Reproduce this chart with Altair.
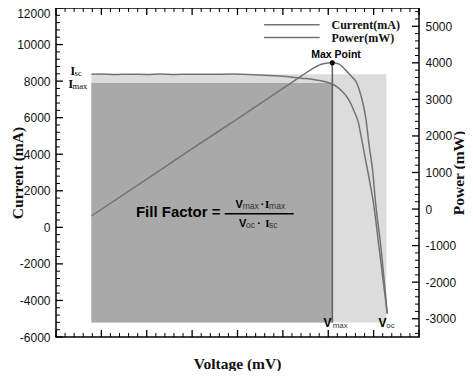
import altair as alt
import pandas as pd

# ---------------- data ----------------
v_cur = [-22, 0, 30, 60, 100, 130, 160, 200, 240, 290, 350, 400, 440, 470, 509, 529,
         544, 558, 566, 572, 583, 594, 599, 612, 630]
i_cur = [8370, 8385, 8360, 8380, 8365, 8385, 8365, 8380, 8370, 8385, 8330, 8260, 8160,
         8080, 7840, 7480, 7030, 6300, 5770, 5040, 3600, 2150, 1430, -1100, -4720]

v_pow = [-22, 100, 200, 300, 400, 442, 464, 485, 500, 509, 518, 525, 540, 551, 562, 572,
         583, 590, 598, 604, 616, 630]
p_pow = [-190, 820, 1650, 2470, 3300, 3650, 3830, 3960, 3995, 4000, 3990, 3960, 3780,
         3630, 3470, 3110, 2470, 1750, 1030, 210, -1050, -2860]

v_start, v_max, v_oc = -22, 509, 628
i_sc, i_max, i_floor = 8370, 7900, -5200
p_max = 4000

x_domain = [-100, 700]
cur_domain = [-6000, 12000]
pow_domain = [-3500, 5500]
x_major = list(range(-100, 701, 100))
x_minor = [v for v in range(-100, 701, 20) if v % 100]
cur_major = list(range(-6000, 12001, 2000))
cur_minor = [v for v in range(-6000, 12001, 400) if v % 2000]
pow_major = list(range(-3000, 5001, 1000))
pow_minor = [v for v in range(-3400, 5500, 200) if v % 1000]
legend_labels = ["Current(mA)", "Power(mW)"]
x_title = "Voltage (mV)"

# ---------------- layout ----------------
W, H = 363, 329
SANS = "Liberation Sans"
SERIF = "Liberation Serif"
CURVE = "#737373"

xs = alt.Scale(domain=x_domain, nice=False, zero=False)
ys_cur = alt.Scale(domain=cur_domain, nice=False, zero=False)
ys_pow = alt.Scale(domain=pow_domain, nice=False, zero=False)


def p_to_cur(p):
    span_c = cur_domain[1] - cur_domain[0]
    span_p = pow_domain[1] - pow_domain[0]
    return cur_domain[0] + (p - pow_domain[0]) * span_c / span_p


lab = dict(labelFont=SANS, labelFontSize=12, labelColor="#111", ticks=False, tickSize=0,
           domain=False, grid=False, labelExpr="'' + datum.value", labelOverlap=False,
           labelFlush=False, titleFont=SERIF, titleFontWeight="bold", titleFontSize=15.5,
           titleColor="#111")

x_axis = alt.Axis(values=x_major, labelPadding=3, title=None,
                  **{k: v for k, v in lab.items() if not k.startswith("title")})
left_axis = alt.Axis(orient="left", values=cur_major, labelPadding=6, title="Current (mA)",
                     titleAngle=270, titleX=-34, titleY=H / 2, titleBaseline="alphabetic",
                     labelBaseline={"condition": {"test": "datum.value == 12000", "value": "top"},
                                    "value": "middle"},
                     **lab)
right_axis = alt.Axis(orient="right", values=pow_major, labelPadding=6, title="Power (mW)",
                      titleAngle=270, titleX=44, titleY=H / 2, titleBaseline="alphabetic", **lab)

one = alt.Data(values=[{}])

layers = []

# filled areas
rect_df = pd.DataFrame({"v0": [v_start, v_start], "v1": [v_oc, v_max],
                        "i0": [i_floor, i_floor], "i1": [i_sc, i_max]})
layers.append(alt.Chart(rect_df.iloc[[0]]).mark_rect(color="#dcdcdc").encode(
    x=alt.X("v0:Q", scale=xs, axis=x_axis), x2="v1",
    y=alt.Y("i0:Q", scale=ys_cur, axis=left_axis), y2="i1"))
layers.append(alt.Chart(rect_df.iloc[[1]]).mark_rect(color="#a9a9a9").encode(
    x=alt.X("v0:Q", scale=xs, axis=None), x2="v1",
    y=alt.Y("i0:Q", scale=ys_cur, axis=None), y2="i1"))

# curves
cur_df = pd.DataFrame({"v": v_cur, "i": i_cur})
pow_df = pd.DataFrame({"v": v_pow, "p": p_pow})
layers.append(alt.Chart(cur_df).mark_line(color=CURVE, strokeWidth=1.5, interpolate="monotone").encode(
    x=alt.X("v:Q", scale=xs, axis=None), y=alt.Y("i:Q", scale=ys_cur, axis=None), order="v:Q"))
layers.append(alt.Chart(pow_df).mark_line(color=CURVE, strokeWidth=1.5, interpolate="monotone").encode(
    x=alt.X("v:Q", scale=xs, axis=None), y=alt.Y("p:Q", scale=ys_pow, axis=right_axis), order="v:Q"))

# Vmax vertical line and max point
vline_df = pd.DataFrame({"v": [v_max], "y0": [i_floor], "y1": [p_to_cur(p_max)]})
layers.append(alt.Chart(vline_df).mark_rule(color="#666666", strokeWidth=1.6).encode(
    x=alt.X("v:Q", scale=xs, axis=None), y=alt.Y("y0:Q", scale=ys_cur, axis=None), y2="y1"))
mp_df = pd.DataFrame({"v": [v_max], "p": [p_max]})
layers.append(alt.Chart(mp_df).mark_point(filled=True, color="black", size=26, opacity=1).encode(
    x=alt.X("v:Q", scale=xs, axis=None), y=alt.Y("p:Q", scale=ys_pow, axis=None)))


# inward tick marks
def xticks(vals, y0, y1, w):
    return alt.Chart(pd.DataFrame({"v": vals})).mark_rule(color="black", strokeWidth=w).encode(
        x=alt.X("v:Q", scale=xs, axis=None), y=alt.value(y0), y2=alt.value(y1))


def yticks(vals, scale, x0, x1, w):
    return alt.Chart(pd.DataFrame({"v": vals})).mark_rule(color="black", strokeWidth=w).encode(
        y=alt.Y("v:Q", scale=scale, axis=None), x=alt.value(x0), x2=alt.value(x1))


layers += [
    xticks(x_major, H, H - 7, 1.3), xticks(x_minor, H, H - 4, 1.0),
    xticks(x_major, 0, 7, 1.3), xticks(x_minor, 0, 4, 1.0),
    yticks(cur_major, ys_cur, 0, 7, 1.3), yticks(cur_minor, ys_cur, 0, 4, 1.0),
    yticks(pow_major, ys_pow, W - 7, W, 1.3), yticks(pow_minor, ys_pow, W - 4, W, 1.0),
]


# text helpers
def ptext(text, x, y, size, font=SANS, weight="normal", align="center", color="black"):
    return alt.Chart(one).mark_text(text=text, fontSize=size, font=font, fontWeight=weight,
                                    align=align, baseline="alphabetic", color=color).encode(
        x=alt.value(x), y=alt.value(y))


def ytext(text, x, yv, scale, dy, size, font=SERIF, weight="normal", align="center", color="black"):
    return alt.Chart(one).mark_text(text=text, fontSize=size, font=font, fontWeight=weight,
                                    align=align, baseline="alphabetic", dy=dy, color=color).encode(
        x=alt.value(x), y=alt.Y(datum=yv, type="quantitative", scale=scale, axis=None))


def xytext(text, xv, yv, scale, dx, dy, size, font=SANS, weight="normal", align="center", color="black"):
    return alt.Chart(one).mark_text(text=text, fontSize=size, font=font, fontWeight=weight,
                                    align=align, baseline="alphabetic", dx=dx, dy=dy, color=color).encode(
        x=alt.X(datum=xv, type="quantitative", scale=xs, axis=None),
        y=alt.Y(datum=yv, type="quantitative", scale=scale, axis=None))


# x axis title (drawn as text below the plot)
layers.append(ptext(x_title, W / 2, H + 31.5, 15.5, font=SERIF, weight="bold", color="#111"))

# Isc / Imax labels
layers += [
    ytext("I", 16.7, i_sc, ys_cur, 0.8, 11.5, weight="bold"),
    ytext("sc", 18.6, i_sc, ys_cur, 1.4, 8.5, align="left"),
    ytext("I", 14.8, i_max, ys_cur, 5.0, 11.5, weight="bold"),
    ytext("max", 16.6, i_max, ys_cur, 5.6, 8.5, align="left"),
]

# Vmax / Voc labels
layers += [
    xytext("V", v_max, i_floor, ys_cur, -4.9, 4.9, 12, weight="bold"),
    xytext("max", v_max, i_floor, ys_cur, 0.3, 5.9, 8, align="left", color="#333"),
    xytext("V", v_oc, i_floor, ys_cur, -3.8, 4.9, 12, weight="bold"),
    xytext("oc", v_oc, i_floor, ys_cur, 0, 5.9, 8, align="left", color="#333"),
]

# Max point label
layers.append(xytext("Max Point", v_max, p_max, ys_pow, 3.7, -4.6, 10.5, weight="bold"))

# Fill factor formula
layers += [
    ptext("Fill Factor =", 79.9, 208.8, 15, weight="bold", align="left"),
    alt.Chart(one).mark_rule(color="black", strokeWidth=1.5).encode(
        x=alt.value(168.7), x2=alt.value(237.7), y=alt.value(205.8)),
    ptext("V", 183.1, 199.9, 11, weight="bold"),
    ptext("max", 186.7, 200.5, 8.5, align="left", color="#333"),
    ptext("·", 206.5, 199.9, 11, weight="bold"),
    ptext("I", 211.1, 199.9, 11, font=SERIF, weight="bold"),
    ptext("max", 213.1, 200.5, 8.5, align="left", color="#333"),
    ptext("V", 186.7, 219.0, 11, weight="bold"),
    ptext("oc", 190.0, 219.6, 8.5, align="left", color="#333"),
    ptext("·", 203.2, 219.0, 11, weight="bold"),
    ptext("I", 211.4, 219.0, 11, font=SERIF, weight="bold"),
    ptext("sc", 213.1, 219.6, 8.5, align="left", color="#333"),
]

# legend
for lbl, ly, ty in zip(legend_labels, [16.8, 29.5], [20.8, 33.5]):
    layers.append(alt.Chart(one).mark_rule(color=CURVE, strokeWidth=1.5).encode(
        x=alt.value(208.1), x2=alt.value(263.7), y=alt.value(ly)))
    layers.append(ptext(lbl, 275.5, ty, 12, font=SERIF, weight="bold", align="left", color="#111"))

chart = alt.layer(*layers).resolve_scale(y="independent").properties(
    width=W, height=H,
    padding={"left": 48, "top": 0, "right": 46, "bottom": 34},
    autosize=alt.AutoSizeParams(type="none"),
).configure_view(stroke="black", strokeWidth=1.5)

chart.save("out.html", embed_options={"renderer": "svg", "actions": False})
